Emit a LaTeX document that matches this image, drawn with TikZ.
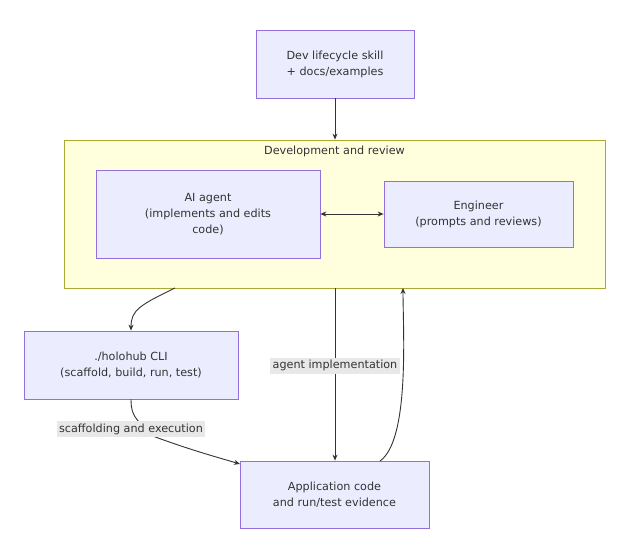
\documentclass[tikz,border=0pt]{standalone}
\usepackage{fontspec}
\setmainfont{DejaVu Sans}
\usetikzlibrary{arrows.meta}
\definecolor{nfill}{HTML}{ECECFF}
\definecolor{nline}{HTML}{9370DB}
\definecolor{cfill}{HTML}{FFFFDE}
\definecolor{cline}{HTML}{AAAA33}
\definecolor{ed}{HTML}{333333}
\definecolor{lbg}{HTML}{E8E8E8}
\begin{document}
\begin{tikzpicture}[x=1pt,y=-1pt,
  box/.style={draw=nline,fill=nfill,line width=0.8pt,align=center,font=\fontsize{11.2}{16}\selectfont,text=ed},
  lab/.style={fill=lbg,font=\fontsize{11.2}{13}\selectfont,text=ed,inner sep=2.5pt},
  e/.style={draw=ed,line width=0.9pt,-{Stealth[length=6pt,width=5pt]}}]
\useasboundingbox (0,0) rectangle (625,544);
\node[draw=cline,fill=cfill,line width=0.8pt,minimum width=541,minimum height=148,inner sep=0] (cl) at (334.5,214) {};
\node[font=\fontsize{11.2}{13}\selectfont,text=ed] (ct) at (334.5,151) {Development and review};
\node[box,minimum width=158,minimum height=68] (dev) at (335,64) {Dev lifecycle skill\\+ docs/examples};
\node[box,minimum width=224,minimum height=88] (ai) at (208,214) {AI agent\\(implements and edits\\code)};
\node[box,minimum width=189,minimum height=66] (eng) at (478.5,214) {Engineer\\(prompts and reviews)};
\node[box,minimum width=214,minimum height=68] (cli) at (131,365) {./holohub CLI\\(scaffold, build, run, test)};
\node[box,minimum width=189,minimum height=67] (app) at (334.5,494.5) {Application code\\and run/test evidence};
\draw[e] (dev.south) -- (cl.north -| dev.south);
\draw[e,{Stealth[length=6pt,width=5pt]}-{Stealth[length=6pt,width=5pt]}] (ai.east) -- (eng.west);
\draw[e] (175,288) .. controls (140,305) and (131,310) .. (cli.north);
\draw[e] (335,288) -- node[lab,pos=0.45] (l1) {agent implementation} (app.north -| 335,0);
\draw[e] (380,461) .. controls (410,440) and (403,330) .. (403,288);
\draw[e] (cli.south) .. controls (131,420) and (140,420) .. (150,435) .. controls (190,450) and (220,458) .. (240,464);
\node[lab] (l2) at (131,429) {scaffolding and execution};
\end{tikzpicture}
\end{document}
